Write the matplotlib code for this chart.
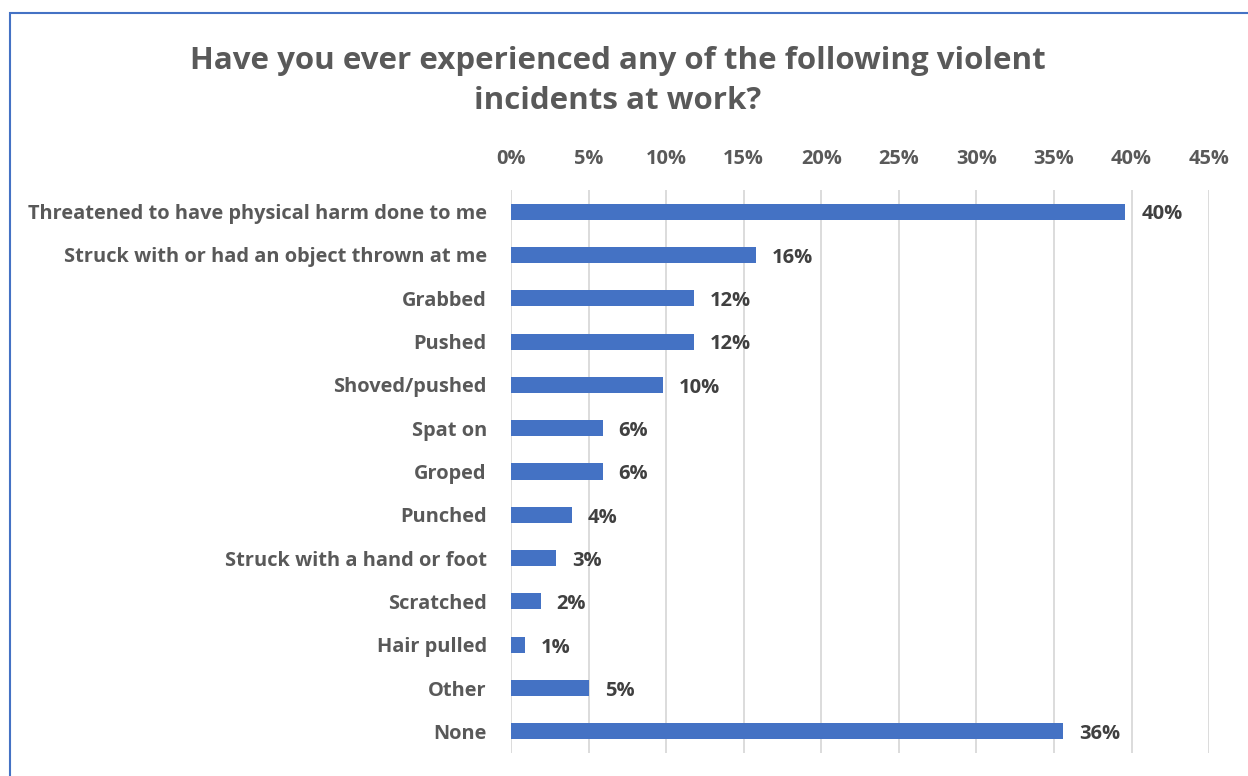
import matplotlib

matplotlib.use("Agg")
import matplotlib.pyplot as plt
from matplotlib.patches import Rectangle
from matplotlib.ticker import MultipleLocator, PercentFormatter

# Dati (percentuali)
categories = [
    "Threatened to have physical harm done to me",
    "Struck with or had an object thrown at me",
    "Grabbed",
    "Pushed",
    "Shoved/pushed",
    "Spat on",
    "Groped",
    "Punched",
    "Struck with a hand or foot",
    "Scratched",
    "Hair pulled",
    "Other",
    "None",
]
values = [39.6, 15.8, 11.8, 11.8, 9.8, 5.9, 5.9, 3.9, 2.9, 1.9, 0.9, 5.0, 35.6]
labels = ["40%", "16%", "12%", "12%", "10%", "6%", "6%", "4%", "3%", "2%", "1%", "5%", "36%"]

TITLE = "Have you ever experienced any of the following violent\nincidents at work?"
BAR_COLOR = "#4472C4"
TEXT_COLOR = "#595959"
LABEL_COLOR = "#404040"

plt.rcParams["font.family"] = ["Open Sans", "DejaVu Sans"]

fig = plt.figure(figsize=(12.48, 7.76), dpi=100)
ax = fig.add_axes([0.4095, 0.0296, 0.5593, 0.7256])

y = list(range(len(categories)))
ax.barh(y, values, height=0.37, color=BAR_COLOR, zorder=3)
for yi, v, lab in zip(y, values, labels):
    ax.annotate(lab, (v, yi), xytext=(11.5, -2), textcoords="offset points",
                va="center", ha="left", fontsize=14.5, fontweight="bold",
                color=LABEL_COLOR)

ax.set_xlim(0, 45)
ax.set_ylim(len(categories) - 0.5, -0.5)
ax.xaxis.set_major_locator(MultipleLocator(5))
ax.xaxis.set_major_formatter(PercentFormatter(decimals=0))
ax.xaxis.tick_top()
ax.set_yticks(y)
ax.set_yticklabels(categories)
ax.tick_params(axis="x", length=0, pad=15, labelsize=14.4, labelcolor=TEXT_COLOR)
ax.tick_params(axis="y", length=0, pad=17.5, labelsize=14.4, labelcolor=TEXT_COLOR)
for t in ax.get_xticklabels() + ax.get_yticklabels():
    t.set_fontweight("bold")
ax.grid(axis="x", color="#D9D9D9", linewidth=1.3, zorder=0)
for s in ax.spines.values():
    s.set_visible(False)

fig.text(0.495, 0.8955, TITLE, ha="center", va="center", fontsize=22.5,
         fontweight="bold", color=TEXT_COLOR, linespacing=1.45)

# cornice blu del riquadro
fig.patches.append(Rectangle((10 / 1248, -0.1), 1.2, 1 - 13 / 776 + 0.1,
                             transform=fig.transFigure, fill=False,
                             edgecolor=BAR_COLOR, linewidth=1.5))

fig.savefig("out.png", dpi=100)
plt.close(fig)
